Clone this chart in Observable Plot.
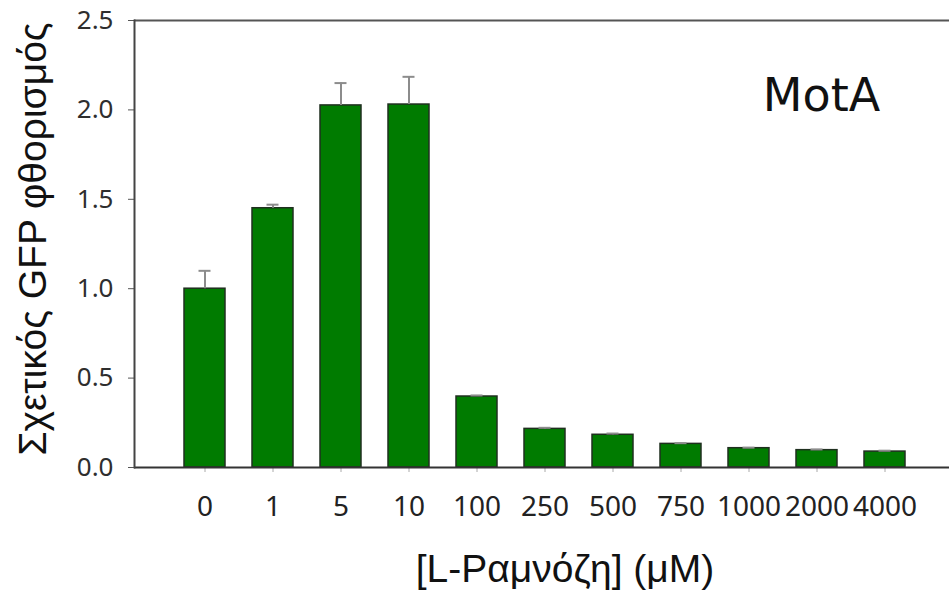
<!DOCTYPE html>
<html>
<head>
<meta charset="utf-8">
<script src="https://cdn.jsdelivr.net/npm/d3@7"></script>
<script src="https://cdn.jsdelivr.net/npm/@observablehq/plot@0.6"></script>
<style>
  html, body { margin: 0; padding: 0; background: #fff; }
  #chart svg { display: block; }
</style>
</head>
<body>
<div id="chart"></div>
<script>
const concentrations = ["0", "1", "5", "10", "100", "250", "500", "750", "1000", "2000", "4000"];
const gfp = [1.0, 1.45, 2.025, 2.03, 0.397, 0.216, 0.183, 0.132, 0.108, 0.097, 0.089];
const sem = [0.10, 0.02, 0.125, 0.155, 0.006, 0.006, 0.007, 0.004, 0.003, 0.004, 0.005];
const yTicks = [0, 0.5, 1.0, 1.5, 2.0, 2.5];
const yLabel = "Σχετικός GFP φθορισμός";
const xLabel = "[L-Ραμνόζη] (μM)";
const panelLabel = "MotA";

const data = concentrations.map((c, i) => ({c, v: gfp[i], top: gfp[i] + sem[i]}));

const W = 949, H = 601;
const mL = 134, mT = 20, mB = 134, mR = 0;

const chart = Plot.plot({
  width: W,
  height: H,
  marginLeft: mL,
  marginRight: mR,
  marginTop: mT,
  marginBottom: mB,
  style: {background: "#fff", color: "#333"},
  x: {domain: concentrations, range: [167.4, 923], paddingInner: 0.39, paddingOuter: 0.195, label: null},
  y: {domain: [0, 2.5], label: null},
  marks: [
    Plot.barY(data, {x: "c", y: "v", fill: "#007b00", stroke: "#1f2f1f", strokeWidth: 1.5}),
    Plot.ruleX(data, {x: "c", y1: "v", y2: "top", stroke: "#8c8c8c", strokeWidth: 2}),
    Plot.tickY(data, {x: "c", y: "top", stroke: "#8c8c8c", strokeWidth: 2, insetLeft: 14.5, insetRight: 14.5}),
    Plot.axisY({ticks: yTicks, tickFormat: d3.format(".1f"), tickSize: 6, tickPadding: 15, fontSize: 26, fontFamily: "Noto Sans", stroke: "#555", fill: "#2e2e2e", label: null}),
    Plot.axisX({tickSize: 5, tickPadding: 24, fontSize: 28, fontFamily: "Noto Sans", stroke: "#aaa", fill: "#222", label: null}),
    Plot.ruleY([0], {stroke: "#333", strokeWidth: 2}),
    Plot.ruleY([2.5], {stroke: "#555", strokeWidth: 2}),
    Plot.frame({anchor: "left", stroke: "#444", strokeWidth: 2}),
    Plot.text([yLabel], {frameAnchor: "left", rotate: -90, dx: -101, dy: -5, fontSize: 39, fontFamily: "Liberation Sans", fill: "#111", textAnchor: "middle", lineAnchor: "middle"}),
    Plot.text([xLabel], {frameAnchor: "bottom", dx: 23, dy: 102, fontSize: 39, fontFamily: "Liberation Sans", fill: "#111", textAnchor: "middle", lineAnchor: "middle"}),
    Plot.text([panelLabel], {frameAnchor: "top-right", dx: -128, dy: 76, fontSize: 46, fontFamily: "DejaVu Sans", fill: "#111", textAnchor: "middle", lineAnchor: "middle"})
  ]
});
document.getElementById("chart").appendChild(chart);
</script>
</body>
</html>
